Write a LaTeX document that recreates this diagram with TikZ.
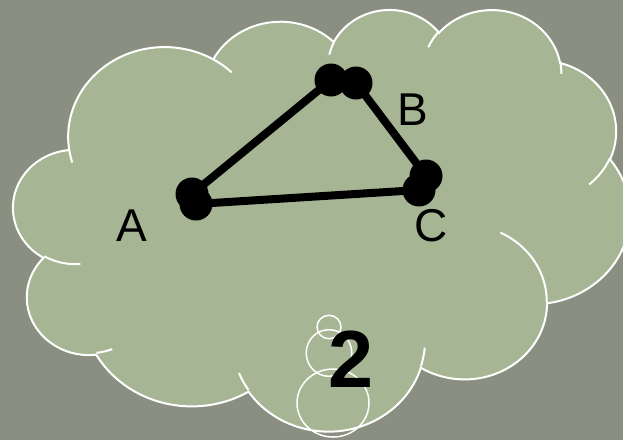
\documentclass[tikz,border=0pt]{standalone}
\usepackage{fontspec}
\setmainfont{Liberation Sans}
\usetikzlibrary{shapes.geometric}
\definecolor{bgc}{RGB}{138,143,129}
\definecolor{cloudc}{RGB}{166,181,148}
\newcommand\oarc[4]{arc[start angle={vp(#3,#1/#2)}, end angle={vp(#3+#4,#1/#2)}, x radius=#1, y radius=#2]}
\begin{document}
\begin{tikzpicture}[x=1pt,y=-1pt,
  declare function={vp(\a,\k)=\a+atan(((\k)-1)*sin(\a)*cos(\a)/(cos(\a)*cos(\a)+(\k)*sin(\a)*sin(\a)));},
  outline/.style={draw=white, line width=2pt},
  bubble/.style={ellipse, draw=white, line width=1.5pt, inner sep=0pt},
  dot/.style={circle, fill=black, inner sep=0pt, minimum size=33pt},
  edgeline/.style={draw=black, line width=8pt},
  lbl/.style={inner sep=0pt, font=\fontsize{46}{50}\selectfont},
  big/.style={inner sep=0pt, font=\fontsize{81}{85}\selectfont\bfseries},
]
\useasboundingbox (0,0) rectangle (623,440);
\fill[bgc] (0,0) rectangle (623,440);
\begin{scope}
\clip (0,0) rectangle (623,440);
\begin{scope}[shift={(13.4,8.6)}, x=1.42685pt, y=-0.97569pt]
\filldraw[fill=cloudc, outline] (39.00,143.70)
  \oarc{67.53}{91.90}{-190.48748}{123.78053}
  \oarc{53.33}{72.67}{-144.10238}{89.94523}
  \oarc{43.65}{59.45}{-145.80792}{99.72302}
  \oarc{48.57}{65.95}{-130.98607}{117.24173}
  \oarc{53.33}{72.73}{-78.70888}{109.02692}
  \oarc{67.75}{92.20}{-46.26725}{130.26900}
  \oarc{57.85}{78.67}{0.62502}{114.03333}
  \oarc{67.52}{92.15}{22.45160}{115.17255}
  \oarc{77.20}{105.43}{66.24263}{75.71102}
  \oarc{43.60}{59.18}{-274.94208}{146.73557}
  \oarc{43.45}{59.45}{-246.82850}{152.51885}
  -- cycle;
\draw[outline]
  (46.93,261.77) \oarc{43.45}{59.45}{86.74200}{26.42950}
  (69.28,348.99) \oarc{43.60}{59.18}{73.61047}{11.44747}
  (164.78,390.90) \oarc{67.52}{92.15}{137.62415}{14.08110}
  (288.27,347.51) \oarc{67.52}{92.15}{6.45327}{15.99835}
  (341.29,229.54) \oarc{57.85}{78.67}{-70.29235}{70.91737}
  (417.98,153.54) \oarc{53.33}{72.73}{30.31803}{27.75150}
  (383.24,54.26) \oarc{48.57}{65.95}{-13.74433}{14.85890}
  (290.78,39.52) \oarc{48.57}{65.95}{-149.18145}{18.19537}
  (221.41,47.20) \oarc{43.65}{59.45}{-163.49427}{16.85507}
  (140.00,51.92) \oarc{67.53}{91.90}{-66.70695}{12.31935}
  (41.27,157.89) \oarc{67.53}{91.90}{157.65435}{11.85817};
\end{scope}
\node[bubble, minimum width=24pt, minimum height=23.4pt] (s1) at (329,327) {};
\node[bubble, minimum width=45.6pt, minimum height=46.6pt] (s2) at (329,353) {};
\node[bubble, minimum width=72pt, minimum height=68pt] (s3) at (333,403) {};
\end{scope}
\node[dot] (A1) at (192,194) {};
\node[dot] (A2) at (196,204) {};
\node[dot] (B1) at (331,80) {};
\node[dot] (B2) at (356,83) {};
\node[dot] (C1) at (426,176) {};
\node[dot] (C2) at (419,190) {};
\draw[edgeline] (A1.center) -- (B1.center);
\draw[edgeline] (B2.center) -- (C1.center);
\draw[edgeline] (A2.center) -- (C2.center);
\node[lbl] (la) at (131.7,225.5) {A};
\node[lbl] (lb) at (413,109.5) {B};
\node[lbl] (lc) at (431,226) {C};
\node[big] (two) at (351,359) {2};
\end{tikzpicture}
\end{document}
